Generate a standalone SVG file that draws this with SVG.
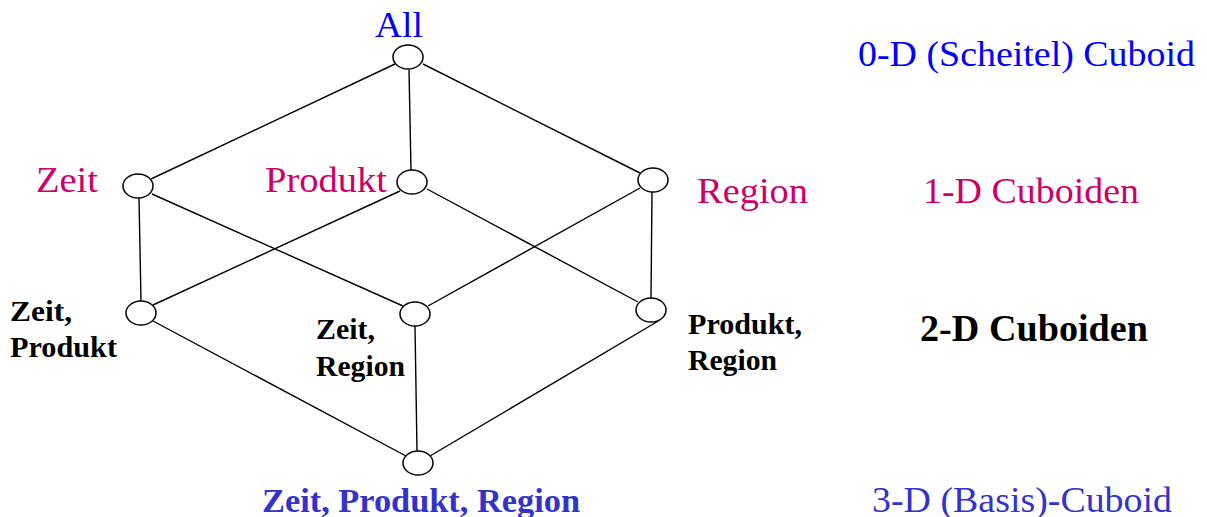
<svg xmlns="http://www.w3.org/2000/svg" width="1207" height="517" viewBox="0 0 1207 517">
<style>
.n{fill:#fff;stroke:#000;stroke-width:1.5}
.e{stroke:#000;stroke-width:1.4;fill:none}
.t{font-family:"Liberation Serif","Times New Roman",serif}
.r{font-size:36px}
.blue{fill:#0000FF}
.mag{fill:#CC0066}
.b{font-weight:bold;fill:#000;font-size:29px}
.dblue{fill:#3333CC}
</style>
<rect width="1207" height="517" fill="#fff"/>
<g id="edges">
<line class="e" x1="395" y1="64" x2="151" y2="179"/>
<line class="e" x1="409" y1="70" x2="411" y2="170"/>
<line class="e" x1="423" y1="64" x2="640" y2="173"/>
<line class="e" x1="139" y1="198" x2="141" y2="301"/>
<line class="e" x1="152" y1="194" x2="403" y2="306"/>
<line class="e" x1="400" y1="191" x2="153" y2="305"/>
<line class="e" x1="427" y1="189" x2="638" y2="302"/>
<line class="e" x1="640" y1="188" x2="428" y2="306"/>
<line class="e" x1="652" y1="192" x2="651" y2="298"/>
<line class="e" x1="153" y1="321" x2="406" y2="456"/>
<line class="e" x1="415" y1="326" x2="417" y2="451"/>
<line class="e" x1="660" y1="320" x2="430" y2="456"/>
</g>
<g id="all"><ellipse class="n" cx="408" cy="57" rx="15" ry="12"/><text class="t r blue" x="375" y="37" textLength="48" lengthAdjust="spacingAndGlyphs">All</text></g>
<g id="zeit"><ellipse class="n" cx="138" cy="186" rx="15" ry="12"/><text class="t r mag" x="36" y="192" textLength="62" lengthAdjust="spacingAndGlyphs">Zeit</text></g>
<g id="produkt"><ellipse class="n" cx="412" cy="182" rx="15" ry="12"/><text class="t r mag" x="265" y="192" textLength="122" lengthAdjust="spacingAndGlyphs">Produkt</text></g>
<g id="region"><ellipse class="n" cx="653" cy="180" rx="15" ry="12"/><text class="t r mag" x="697" y="203" textLength="111" lengthAdjust="spacingAndGlyphs">Region</text></g>
<g id="zeit-produkt"><ellipse class="n" cx="141" cy="313" rx="15" ry="12"/><text class="t b"><tspan x="10" y="321" textLength="62" lengthAdjust="spacingAndGlyphs">Zeit,</tspan><tspan x="10" y="357" textLength="107" lengthAdjust="spacingAndGlyphs">Produkt</tspan></text></g>
<g id="zeit-region"><ellipse class="n" cx="415" cy="314" rx="15" ry="12"/><text class="t b"><tspan x="316" y="339" textLength="59" lengthAdjust="spacingAndGlyphs">Zeit,</tspan><tspan x="316" y="376" textLength="89" lengthAdjust="spacingAndGlyphs">Region</tspan></text></g>
<g id="produkt-region"><ellipse class="n" cx="651" cy="310" rx="15" ry="12"/><text class="t b"><tspan x="688" y="334" textLength="114" lengthAdjust="spacingAndGlyphs">Produkt,</tspan><tspan x="688" y="370" textLength="89" lengthAdjust="spacingAndGlyphs">Region</tspan></text></g>
<g id="base"><ellipse class="n" cx="418" cy="463" rx="15" ry="12"/><text class="t b" x="262" y="512" style="fill:#3333CC;font-size:33px" textLength="318" lengthAdjust="spacingAndGlyphs">Zeit, Produkt, Region</text></g>
<g id="legend">
<text class="t r blue" x="858" y="66" textLength="337" lengthAdjust="spacingAndGlyphs">0-D (Scheitel) Cuboid</text>
<text class="t r mag" x="923" y="203" textLength="216" lengthAdjust="spacingAndGlyphs">1-D Cuboiden</text>
<text class="t b" x="920" y="341" style="font-size:37px" textLength="228" lengthAdjust="spacingAndGlyphs">2-D Cuboiden</text>
<text class="t r dblue" x="872" y="512" textLength="300" lengthAdjust="spacingAndGlyphs">3-D (Basis)-Cuboid</text>
</g>
</svg>
